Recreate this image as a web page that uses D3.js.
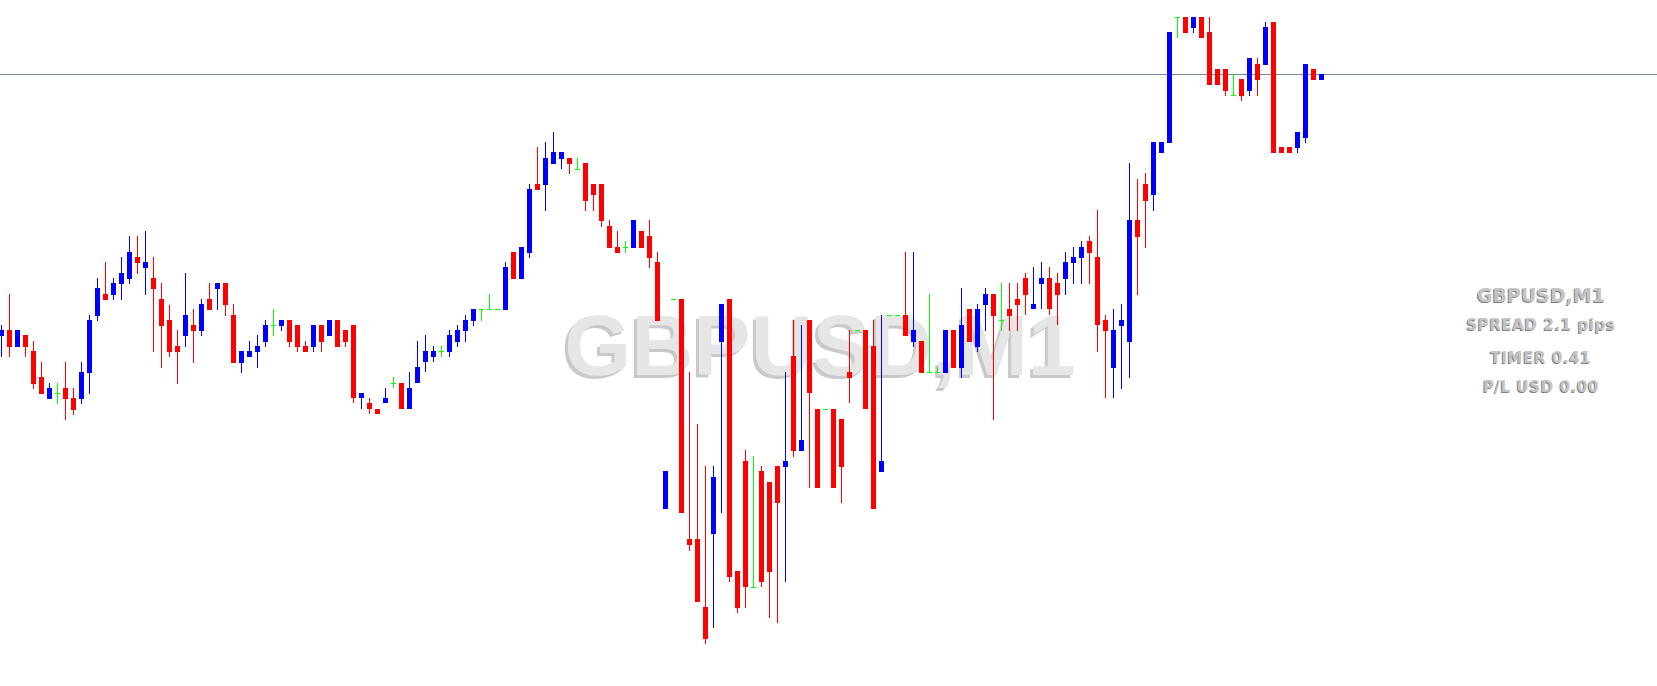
<!DOCTYPE html>
<html><head><meta charset="utf-8">
<script src="https://cdn.jsdelivr.net/npm/d3@7"></script>
<style>html,body{margin:0;padding:0;background:#fff;overflow:hidden}</style>
</head><body><svg id="c" width="1657" height="686"></svg>
<script>
// GBPUSD M1 candles. Prices in points above 1.26000 (1 point = 0.00001)
const openPts = [
350,356,339,351,335,309,287,293,298,288,
287,313,370,392,391,402,407,429,418,408,
387,366,340,350,361,355,387,397,403,371,
323,329,334,344,361,360,366,361,340,339,
361,350,366,356,361,288,283,277,283,303,
303,277,303,324,329,335,334,344,355,365,
377,377,377,376,434,407,433,502,501,522,
527,528,517,523,502,502,460,439,439,438,
455,450,424,177,387,387,147,147,79,152,
344,387,115,225,99,215,204,220,219,330,
235,366,277,277,277,267,314,356,356,340,
214,371,371,371,344,345,314,314,313,356,
318,377,339,381,392,366,377,387,408,377,
402,408,403,407,423,428,445,429,366,318,
360,344,466,502,491,533,543,669,669,658,
669,654,617,617,591,607,595,622,621,664,
539,539,538,548,617,606];
const highPts = [
361,392,356,351,345,324,303,303,324,298,
324,371,408,424,408,429,450,450,455,429,
403,381,356,413,377,387,403,403,403,382,
335,345,351,366,377,366,366,361,345,361,
361,366,366,356,361,293,288,277,298,309,
303,314,345,351,340,340,356,361,371,377,
377,392,377,424,434,439,502,539,544,554,
534,528,528,523,502,502,466,455,445,466,
455,466,434,215,387,387,314,262,220,220,
382,387,115,236,230,220,204,220,314,366,
361,366,277,277,277,267,356,356,356,366,
371,371,371,434,434,345,392,319,356,356,
398,377,382,398,392,403,403,403,413,419,
424,419,413,434,439,445,450,476,371,377,
382,523,507,513,544,544,654,669,669,669,
669,669,617,617,612,607,628,628,664,664,
539,539,554,622,617,612];
const lowPts = [
329,329,339,329,297,292,287,282,266,271,
282,292,365,386,386,386,402,412,391,334,
318,329,302,339,323,350,376,376,370,323,
313,329,318,339,350,355,339,334,334,334,
334,350,339,339,283,277,272,272,283,298,
277,277,303,314,324,329,329,339,344,360,
365,377,377,376,407,407,428,496,475,522,
517,512,517,475,475,459,438,433,433,438,
438,418,365,177,387,173,135,84,42,58,
173,104,73,78,99,99,68,63,104,229,
235,198,198,277,198,183,283,356,277,177,
214,371,371,350,339,313,314,314,313,318,
308,344,334,355,266,355,355,355,371,377,
377,371,361,391,402,402,402,334,288,288,
297,308,391,438,475,533,543,648,653,653,
648,601,601,590,591,585,590,590,621,533,
533,533,533,543,606,606];
const closePts = [
356,339,356,339,302,292,298,293,287,276,
314,366,398,386,403,413,434,423,424,397,
360,334,334,371,355,382,376,403,381,323,
335,335,340,361,361,366,344,339,334,361,
344,366,339,344,288,293,277,272,288,303,
277,298,319,335,335,335,351,356,366,377,
377,377,377,419,407,439,497,496,528,534,
534,522,517,485,491,465,438,433,439,466,
438,428,365,215,387,173,141,84,47,209,
382,109,78,99,99,104,114,183,225,235,
246,293,198,277,198,219,308,356,277,177,
225,371,371,350,356,313,314,314,356,318,
361,344,377,392,370,366,370,381,391,382,
408,377,391,424,429,439,433,361,355,356,
366,466,449,485,544,544,654,669,653,669,
648,601,601,595,591,590,628,606,659,533,
533,533,554,622,606,612];
const bidPts = 612;
const symbolLabel = "GBPUSD,M1";
const infoLines = ["SPREAD 2.1 pips", "TIMER 0.41", "P/L USD 0.00"];

const W = 1657, H = 686;
const colors = {up: "#0000ff", down: "#ff0000", doji: "#00ff00"};
const data = openPts.map((o, i) => ({i, o, h: highPts[i], l: lowPts[i], c: closePts[i]}));

const svg = d3.select("#c");
svg.append("rect").attr("width", W).attr("height", H).attr("fill", "#fff");

const x = d3.scaleLinear().domain([0, data.length - 1]).range([1, 1321]);
const y = d3.scaleLinear().domain([0, 686]).range([686, 0]);

// watermark
const wm = svg.append("g").attr("font-family", "'Liberation Sans', Arial, sans-serif")
  .attr("font-weight", "bold").attr("font-size", 86).attr("text-anchor", "middle");
wm.append("text").attr("x", 817).attr("y", 378).attr("fill", "#c9c9c9").text(symbolLabel);
wm.append("text").attr("x", 820).attr("y", 375).attr("fill", "#e6e6e6").text(symbolLabel);

// bid line
svg.append("rect").attr("x", 0).attr("width", W).attr("y", y(bidPts)).attr("height", 1)
  .attr("fill", "#778899");

const col = d => d.c > d.o ? colors.up : (d.c < d.o ? colors.down : colors.doji);
const g = svg.append("g").attr("shape-rendering", "crispEdges");
g.selectAll(".wick").data(data.filter(d => d.h !== d.l)).join("rect")
  .attr("x", d => x(d.i)).attr("width", 1)
  .attr("y", d => y(d.h)).attr("height", d => Math.max(1, y(d.l) - y(d.h)))
  .attr("fill", col);
g.selectAll(".body").data(data).join("rect")
  .attr("x", d => x(d.i) - 2).attr("width", 5)
  .attr("y", d => y(Math.max(d.o, d.c)))
  .attr("height", d => Math.max(1, Math.abs(y(d.o) - y(d.c))))
  .attr("fill", col);

// info panel
const info = svg.append("g").attr("font-family", "'DejaVu Sans', sans-serif")
  .attr("font-weight", "bold").attr("text-anchor", "middle");
const lines = [{t: symbolLabel, s: 19, yb: 302, ls: 0}]
  .concat(infoLines.map((t, k) => ({t, s: 15, yb: [330, 363, 392][k], ls: 0.6})));
lines.forEach(L => {
  info.append("text").attr("x", 1540).attr("y", L.yb + 1).attr("font-size", L.s)
    .attr("letter-spacing", L.ls).attr("fill", "#808080").text(L.t);
  info.append("text").attr("x", 1541).attr("y", L.yb).attr("font-size", L.s)
    .attr("letter-spacing", L.ls).attr("fill", "#c4c4c4").text(L.t);
});
</script></body></html>
